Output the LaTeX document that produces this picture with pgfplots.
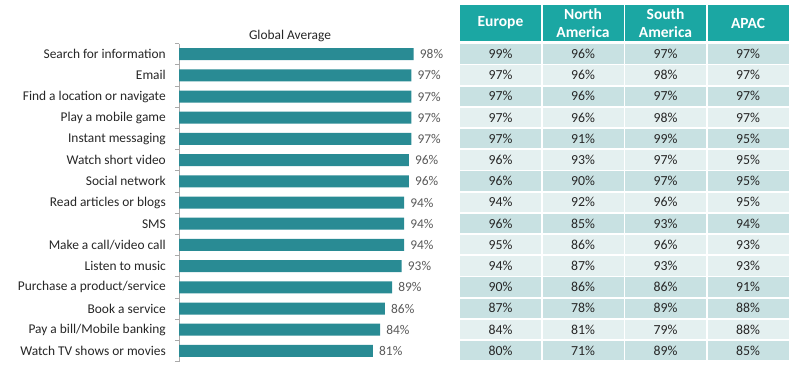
\documentclass[border=0pt]{standalone}
\usepackage{pgfplots}
\pgfplotsset{compat=1.18}
\usepackage{pgfplotstable}
\usepackage{fontspec}
\setmainfont{Carlito}
\definecolor{barc}{RGB}{41,139,148}
\definecolor{headc}{RGB}{27,167,163}
\definecolor{darkrow}{RGB}{200,225,226}
\definecolor{lightrow}{RGB}{228,240,240}
\definecolor{txt}{RGB}{38,38,38}
\definecolor{valc}{RGB}{89,89,89}
\definecolor{axisgray}{RGB}{170,170,170}
\pgfplotstableread{
idx val
0 98
1 97
2 97
3 97
4 97
5 96
6 96
7 94
8 94
9 94
10 93
11 89
12 86
13 84
14 81
}\globaldata
\pgfplotstableread{
eu na sa apac shade
99 96 97 97 1
97 96 98 97 0
97 96 97 97 1
97 96 98 97 0
97 91 99 95 1
96 93 97 95 0
96 90 97 95 1
94 92 96 95 0
96 85 93 94 1
95 86 96 93 0
94 87 93 93 0
90 86 86 91 1
87 78 89 88 1
84 81 79 88 0
80 71 89 85 1
}\regional
\newcommand\lbl{\fontsize{13.4}{16}\selectfont}
\newcommand\tbl{\fontsize{13.8}{16}\selectfont}
\begin{document}
\begin{tikzpicture}
\path[use as bounding box] (0pt,0pt) rectangle (800pt,-368pt);
\begin{axis}[
  at={(179pt,-361.5pt)}, anchor=south west,
  scale only axis, width=239.5pt, height=318pt,
  xmin=0, xmax=100, ymin=-0.5, ymax=14.5, y dir=reverse,
  axis x line=none, axis y line*=left,
  y axis line style={draw=axisgray, line width=0.8pt},
  xbar, bar width=12pt, bar shift=0pt,
  ytick={0,...,14},
  yticklabels={Search for information,Email,Find a location or navigate,Play a mobile game,Instant messaging,Watch short video,Social network,Read articles or blogs,SMS,Make a call/video call,Listen to music,Purchase a product/service,Book a service,Pay a bill/Mobile banking,Watch TV shows or movies},
  major tick length=0pt,
  minor ytick={-0.5,0.5,...,14.5}, minor tick length=4pt, tick align=outside,
  every tick/.style={axisgray, line width=0.8pt},
  yticklabel style={font=\lbl, text=txt, inner sep=0pt, xshift=-13pt},
  /pgf/number format/assume math mode=true,
  point meta=x,
  nodes near coords={\pgfmathprintnumber[fixed,precision=0]{\pgfplotspointmeta}\%},
  nodes near coords style={font=\lbl, text=valc, anchor=west, inner sep=0pt, xshift=6pt},
  clip=false,
]
\addplot[fill=barc, draw=none] table[x=val,y=idx]{\globaldata};
\end{axis}
\node[font=\lbl, text=txt] at (290pt,-36pt) {Global Average};
% header
\foreach \h [count=\c from 0] in {Europe,North\\America,South\\America,APAC}{
  \pgfmathsetmacro\xl{460+82.5*\c}
  \fill[headc] (\xl pt,-5pt) rectangle ++(81pt,-35.5pt);
  \node[font=\fontsize{15.5}{18}\selectfont\bfseries, text=white, align=center] at (\xl pt+40.5pt,-23pt) {\h};
}
% rows
\foreach \r in {0,...,14}{
  \pgfplotstablegetelem{\r}{shade}\of\regional
  \ifnum\pgfplotsretval=1 \def\rc{darkrow}\else\def\rc{lightrow}\fi
  \pgfmathsetmacro\yt{44.2+21.2*\r}
  \foreach \col [count=\c from 0] in {eu,na,sa,apac}{
    \pgfplotstablegetelem{\r}{\col}\of\regional
    \pgfmathsetmacro\xl{460+82.5*\c}
    \fill[\rc] (\xl pt,-\yt pt) rectangle ++(81pt,-19.4pt);
    \node[font=\tbl, text=txt] at (\xl pt+40.5pt,-\yt pt-9.7pt) {\pgfplotsretval\%};
  }
}
\end{tikzpicture}
\end{document}
